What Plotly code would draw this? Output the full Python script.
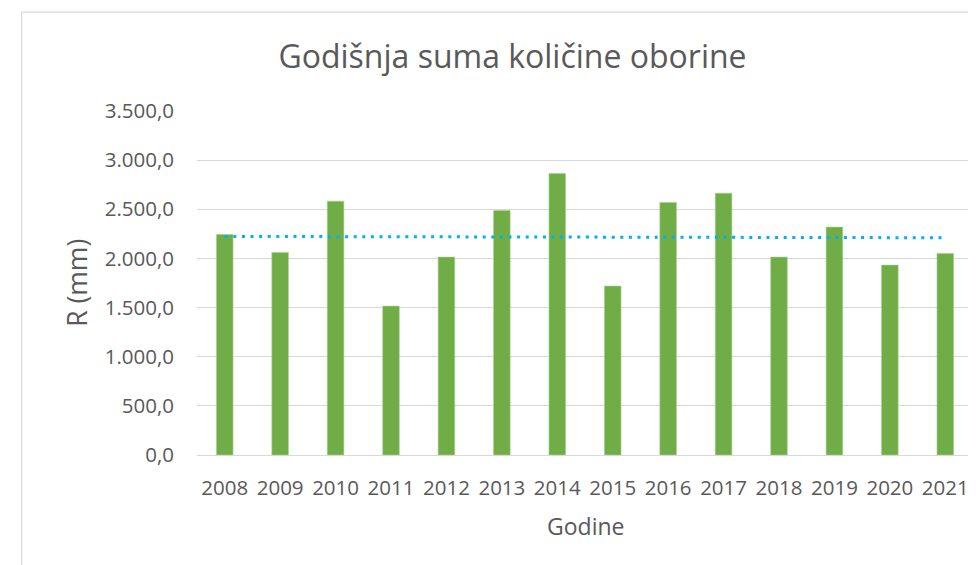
import numpy as np
import plotly.graph_objects as go

years = ["2008", "2009", "2010", "2011", "2012", "2013", "2014",
         "2015", "2016", "2017", "2018", "2019", "2020", "2021"]
rain_mm = [2244, 2061, 2583, 1515, 2014, 2488, 2865,
           1719, 2570, 2664, 2014, 2319, 1932, 2051]
y_ticks = [0, 500, 1000, 1500, 2000, 2500, 3000, 3500]

title_text = "Godišnja suma količine oborine"
x_title = "Godine"
y_title = "R (mm)"

# linear trend line (as in Excel)
idx = np.arange(len(years))
slope, intercept = np.polyfit(idx, rain_mm, 1)
trend = [intercept + slope * idx[0], intercept + slope * idx[-1]]

TXT = "#595959"
GRID = "#D9D9D9"
FONT = "Open Sans"
W, H = 968, 557

fig = go.Figure()
fig.add_trace(go.Bar(
    x=years, y=rain_mm,
    marker=dict(color="#70AD47", line=dict(color="#A9D18E", width=0.6)),
    width=0.3, showlegend=False, hoverinfo="x+y",
))
fig.add_trace(go.Scatter(
    x=[years[0], years[-1]], y=trend, mode="lines",
    line=dict(color="#00B0F0", width=3, dash="3px,5.6px"),
    showlegend=False, hoverinfo="skip",
))

fig.update_layout(
    width=W, height=H,
    margin=dict(l=189, r=3, t=103, b=110),
    paper_bgcolor="white", plot_bgcolor="white",
    separators=",.",
    font=dict(family=FONT, color=TXT),
    title=dict(text=title_text, x=504.5 / W, xanchor="center", xref="container",
               y=1 - 49 / H, yanchor="middle", yref="container",
               font=dict(size=32, color=TXT, family=FONT)),
    xaxis=dict(type="category", showgrid=False, showline=True, linecolor=GRID,
               linewidth=1, ticks="", tickfont=dict(size=20.5, color=TXT),
               ticklabelstandoff=14, fixedrange=True),
    yaxis=dict(range=[0, 3500], tickvals=y_ticks, tickformat=",.1f",
               showgrid=True, gridcolor=GRID, gridwidth=1, zeroline=False,
               showline=False, ticks="", tickfont=dict(size=20.5, color=TXT),
               ticklabelstandoff=22, fixedrange=True),
    bargap=0.7,
    shapes=[dict(type="rect", xref="paper", yref="paper",
                 x0=-0.226, x1=1.05, y0=-0.4, y1=1.2875,
                 line=dict(color=GRID, width=1.2), fillcolor="rgba(0,0,0,0)",
                 layer="below")],
    annotations=[
        dict(text=y_title, xref="paper", yref="paper", x=-0.155, y=0.5,
             showarrow=False, textangle=-90, xanchor="center", yanchor="middle",
             font=dict(size=26.5, color=TXT, family=FONT)),
        dict(text=x_title, xref="paper", yref="paper", x=0.5, y=-0.206,
             showarrow=False, xanchor="center", yanchor="middle",
             font=dict(size=23, color=TXT, family=FONT)),
    ],
)

fig.write_html("out.html")
